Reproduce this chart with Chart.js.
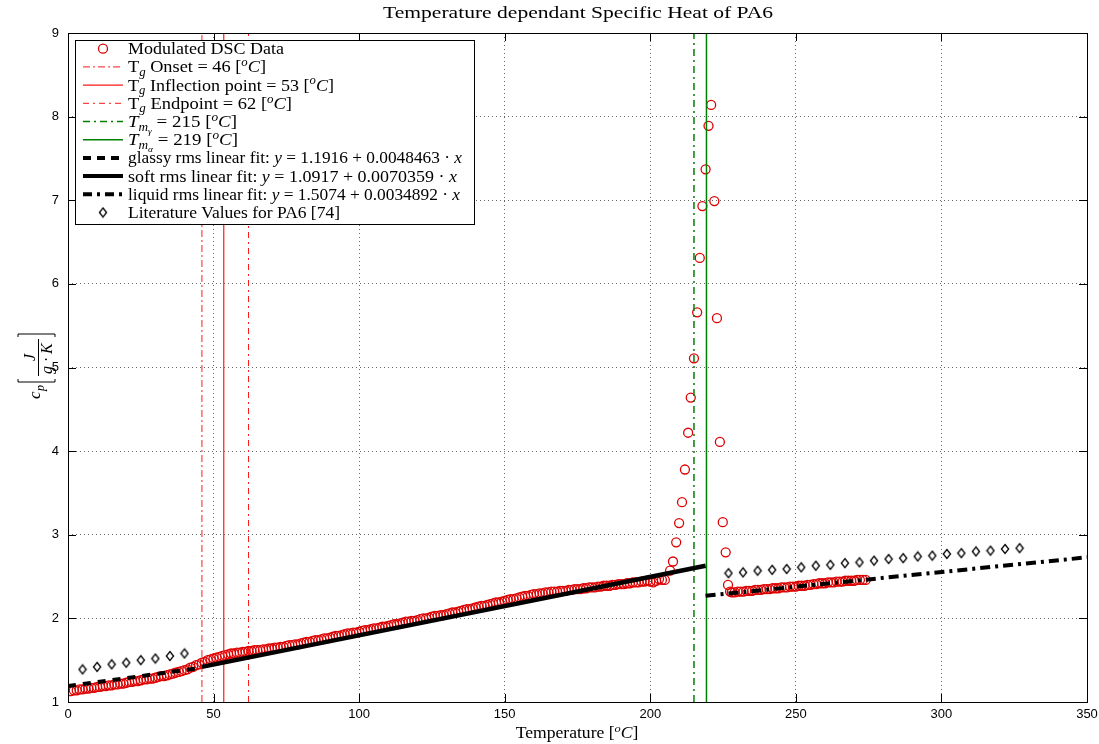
<!DOCTYPE html>
<html>
<head>
<meta charset="utf-8">
<script src="https://cdn.jsdelivr.net/npm/chart.js@4.4.1/dist/chart.umd.min.js"></script>
<style>
  html, body { margin: 0; padding: 0; background: #fff; }
</style>
</head>
<body>
<canvas id="c" width="1099" height="744"></canvas>
<script>
/* ── DATA ───────────────────────────────────────────────────────────── */
// modulated DSC, glassy + soft range, one reading per °C from 1 °C
const dscLowStart = 1;
const dscLowCp = [
  1.13,1.14,1.14,1.15,1.15,1.16,1.16,1.17,1.17,
  1.18,1.18,1.19,1.19,1.20,1.20,1.21,1.21,1.22,1.22,
  1.23,1.24,1.24,1.25,1.25,1.26,1.27,1.27,1.28,1.28,
  1.29,1.30,1.31,1.31,1.32,1.33,1.34,1.35,1.36,1.37,
  1.38,1.39,1.41,1.42,1.44,1.45,1.47,1.48,1.50,1.51,
  1.52,1.53,1.54,1.55,1.56,1.57,1.58,1.58,1.59,1.59,
  1.60,1.60,1.61,1.61,1.62,1.62,1.62,1.63,1.63,1.64,
  1.64,1.65,1.65,1.66,1.66,1.67,1.68,1.68,1.69,1.69,
  1.70,1.71,1.72,1.72,1.73,1.74,1.74,1.75,1.76,1.76,
  1.77,1.78,1.79,1.79,1.80,1.81,1.82,1.82,1.83,1.83,
  1.84,1.85,1.86,1.86,1.87,1.88,1.88,1.89,1.90,1.90,
  1.91,1.92,1.93,1.93,1.94,1.95,1.96,1.96,1.97,1.97,
  1.98,1.99,2.00,2.00,2.01,2.02,2.03,2.03,2.04,2.04,
  2.05,2.06,2.07,2.07,2.08,2.09,2.10,2.11,2.11,2.12,
  2.13,2.14,2.15,2.15,2.16,2.17,2.18,2.19,2.19,2.20,
  2.21,2.22,2.23,2.23,2.24,2.25,2.26,2.27,2.27,2.28,
  2.29,2.29,2.30,2.30,2.31,2.31,2.32,2.32,2.32,2.33,
  2.33,2.33,2.34,2.34,2.35,2.35,2.35,2.36,2.36,2.37,
  2.37,2.37,2.38,2.38,2.39,2.39,2.39,2.40,2.40,2.41,
  2.41,2.41,2.42,2.42,2.43,2.43,2.43,2.44,2.44,2.45,
  2.44,2.43,2.45,2.47,2.46,2.46
];
// melting peak, read point by point
const dscPeakT  = [206.8,207.8,208.9,209.9,210.9,211.9,213.0,213.9,215.0,216.1,217.0,
                   217.9,219.0,220.0,220.9,222.0,222.9,223.9,224.9,225.9,226.7,227.4];
const dscPeakCp = [2.57,2.68,2.91,3.14,3.39,3.78,4.22,4.64,5.11,5.66,6.31,
                   6.93,7.37,7.89,8.14,6.99,5.59,4.11,3.15,2.79,2.40,2.32];
// liquid range, one reading per °C from 228 °C
const dscHighStart = 228;
const dscHighCp = [
  2.31,2.31,2.32,2.32,2.32,2.33,2.33,2.33,2.34,2.34,
  2.34,2.35,2.35,2.35,2.36,2.36,2.36,2.37,2.37,2.37,
  2.38,2.38,2.38,2.39,2.39,2.39,2.40,2.40,2.41,2.41,
  2.42,2.42,2.42,2.43,2.43,2.43,2.44,2.44,2.44,2.45,
  2.45,2.45,2.45,2.46,2.46,2.46,2.46
];

// literature values for PA6 [74]
const litT  = [5,10,15,20,25,30,35,40,
               226.85,231.85,236.85,241.85,246.85,251.85,256.85,261.85,266.85,271.85,276.85,
               281.85,286.85,291.85,296.85,301.85,306.85,311.85,316.85,321.85,326.85];
const litCp = [1.39,1.42,1.45,1.47,1.50,1.52,1.55,1.58,
               2.54,2.55,2.57,2.58,2.59,2.61,2.63,2.64,2.66,2.67,2.69,
               2.71,2.72,2.74,2.75,2.77,2.78,2.80,2.81,2.83,2.84];

// rms linear fits (end points)
const glassyT = [0, 46],    glassyCp = [1.19, 1.41];
const softT   = [46, 219],  softCp   = [1.42, 2.63];
const liquidT = [219, 350], liquidCp = [2.27, 2.73];

// transition temperatures
const tgOnset = 46, tgInflection = 53.5, tgEnd = 62;
const tmGamma = 215, tmAlpha = 219.3;
const yRange = [1, 9];

const xTicks = { min: 0, max: 350, step: 50 };
const yTicks = { min: 1, max: 9, step: 1 };

/* ── HELPERS ────────────────────────────────────────────────────────── */
const SERIF = '"Liberation Serif", "Times New Roman", serif';
const SANS  = '"Liberation Sans", Arial, sans-serif';
const RED   = '#ff1a1a';
const DRED  = '#dd0000';
const GREEN = '#008000';

const pts = (xs, ys) => xs.map((x, i) => ({ x, y: ys[i] }));
const run = (start, ys) => ys.map((y, i) => ({ x: start + i, y }));
const vline = x => [{ x, y: yRange[0] }, { x, y: yRange[1] }];

function diamondImg() {
  const c = document.createElement('canvas');
  c.width = 10; c.height = 12;
  const g = c.getContext('2d');
  g.strokeStyle = '#000'; g.lineWidth = 1.3;
  g.beginPath();
  g.moveTo(5, 1.5); g.lineTo(8.6, 6); g.lineTo(5, 10.5); g.lineTo(1.4, 6);
  g.closePath(); g.stroke();
  return c;
}
const DIAMOND = diamondImg();

// rich text: parts = [[text, style]], style r|i|sub|ss|sup
function partFont(s, size) {
  let fs = size;
  if (s === 'sub' || s === 'sup') fs = size * 0.7;
  if (s === 'ss') fs = size * 0.5;
  return (s !== 'r' ? 'italic ' : '') + fs + 'px ' + SERIF;
}
function richWidth(ctx, parts, size) {
  let w = 0;
  for (const [t, s] of parts) { ctx.font = partFont(s, size); w += ctx.measureText(t).width; }
  return w;
}
function richText(ctx, x, y, parts, size, sx) {
  for (const [t, s] of parts) {
    let dy = 0;
    if (s === 'sub') dy = size * 0.22;
    if (s === 'ss')  dy = size * 0.40;
    if (s === 'sup') dy = -size * 0.38;
    ctx.font = partFont(s, size);
    ctx.save();
    ctx.translate(x, y + dy); ctx.scale(sx, 1);
    ctx.fillText(t, 0, 0);
    ctx.restore();
    x += ctx.measureText(t).width * sx;
  }
  return x;
}

/* ── LEGEND ROWS ────────────────────────────────────────────────────── */
const unitC = [[' [', 'r'], ['o', 'sup'], ['C', 'i'], [']', 'r']];
const legendRows = [
  { mark: 'circle', end: 284, parts: [['Modulated DSC Data', 'r']] },
  { line: { c: RED, w: 1, d: [7, 3, 2, 3] }, end: 266,
    parts: [['T', 'r'], ['g', 'sub'], [' Onset = 46', 'r'], ...unitC] },
  { line: { c: RED, w: 1.2, d: [] }, end: 334,
    parts: [['T', 'r'], ['g', 'sub'], [' Inflection point = 53', 'r'], ...unitC] },
  { line: { c: RED, w: 1, d: [6, 4, 2, 4] }, end: 292,
    parts: [['T', 'r'], ['g', 'sub'], [' Endpoint = 62', 'r'], ...unitC] },
  { line: { c: GREEN, w: 1.5, d: [7, 4, 2, 4] }, end: 237,
    parts: [['T', 'i'], ['m', 'sub'], ['γ', 'ss'], [' = 215', 'r'], ...unitC] },
  { line: { c: GREEN, w: 1.5, d: [] }, end: 238,
    parts: [['T', 'i'], ['m', 'sub'], ['α', 'ss'], [' = 219', 'r'], ...unitC] },
  { line: { c: '#000', w: 4, d: [8, 6] }, end: 462,
    parts: [['glassy rms linear fit: ', 'r'], ['y', 'i'], [' = 1.1916 + 0.0048463 · ', 'r'], ['x', 'i']] },
  { line: { c: '#000', w: 4, d: [] }, end: 457,
    parts: [['soft rms linear fit: ', 'r'], ['y', 'i'], [' = 1.0917 + 0.0070359 · ', 'r'], ['x', 'i']] },
  { line: { c: '#000', w: 4, d: [9, 5, 3, 5] }, end: 460,
    parts: [['liquid rms linear fit: ', 'r'], ['y', 'i'], [' = 1.5074 + 0.0034892 · ', 'r'], ['x', 'i']] },
  { mark: 'diamond', end: 340, parts: [['Literature Values for PA6 [74]', 'r']] },
];

/* ── DECORATION PLUGIN ──────────────────────────────────────────────── */
const decor = {
  id: 'decor',
  afterDatasetsDraw(chart) {
    const { ctx, chartArea: a, scales: { x, y } } = chart;
    ctx.save();
    ctx.strokeStyle = '#000'; ctx.lineWidth = 1; ctx.setLineDash([]);
    ctx.beginPath();
    x.ticks.forEach(t => {
      const px = Math.round(x.getPixelForValue(t.value)) + 0.5;
      ctx.moveTo(px, a.bottom); ctx.lineTo(px, a.bottom - 8);
      ctx.moveTo(px, a.top);    ctx.lineTo(px, a.top + 8);
    });
    y.ticks.forEach(t => {
      const py = Math.round(y.getPixelForValue(t.value)) + 0.5;
      ctx.moveTo(a.left, py);  ctx.lineTo(a.left + 8, py);
      ctx.moveTo(a.right, py); ctx.lineTo(a.right - 8, py);
    });
    ctx.stroke();
    ctx.strokeRect(Math.round(a.left) + 0.5, Math.round(a.top) + 0.5,
                   Math.round(a.right - a.left), Math.round(a.bottom - a.top));
    ctx.restore();
  },
  afterDraw(chart) {
    const { ctx } = chart;
    ctx.save();
    ctx.fillStyle = '#000';
    ctx.textBaseline = 'alphabetic';

    // title
    const title = 'Temperature dependant Specific Heat of PA6';
    ctx.font = '17px ' + SERIF;
    const tw = ctx.measureText(title).width;
    ctx.save(); ctx.translate(578 - 195, 18); ctx.scale(390 / tw, 1); ctx.fillText(title, 0, 0); ctx.restore();

    // x label
    const xl = [['Temperature', 'r'], ...unitC];
    const xw = richWidth(ctx, xl, 16) * 1.1;
    richText(ctx, 577 - xw / 2, 738, xl, 16, 1.1);

    // y label (rotated)
    ctx.save();
    ctx.translate(40, 366);
    ctx.rotate(-Math.PI / 2);
    ctx.strokeStyle = '#000'; ctx.lineWidth = 1;
    ctx.font = 'italic 17px ' + SERIF; ctx.fillText('c', -33, 0);
    ctx.font = 'italic 12px ' + SERIF; ctx.fillText('p', -25, 4);
    ctx.beginPath();
    ctx.moveTo(-13, -22); ctx.lineTo(-16, -22); ctx.lineTo(-16, 15); ctx.lineTo(-13, 15);
    ctx.moveTo(29, -22);  ctx.lineTo(32, -22);  ctx.lineTo(32, 15);  ctx.lineTo(29, 15);
    ctx.moveTo(-10, -1.5); ctx.lineTo(27, -1.5);
    ctx.stroke();
    ctx.textAlign = 'left';
    ctx.font = 'italic 16px ' + SERIF; ctx.fillText('J', 5, -5);
    ctx.fillText('g', -8, 12);
    ctx.font = '16px ' + SERIF; ctx.fillText('·', 4, 12);
    ctx.font = 'italic 16px ' + SERIF; ctx.fillText('K', 12, 12);
    ctx.restore();

    // legend
    const L = 75, T = 40, R = 474, B = 224;
    ctx.fillStyle = '#fff';
    ctx.fillRect(L, T, R - L, B - T);
    ctx.strokeStyle = '#000'; ctx.lineWidth = 1; ctx.setLineDash([]);
    ctx.strokeRect(L + 0.5, T + 0.5, R - L, B - T);
    legendRows.forEach((row, i) => {
      const cy = 48.7 + 18.2 * i;
      ctx.save();
      if (row.line) {
        ctx.strokeStyle = row.line.c; ctx.lineWidth = row.line.w;
        ctx.setLineDash(row.line.d);
        ctx.beginPath(); ctx.moveTo(83, cy); ctx.lineTo(123, cy); ctx.stroke();
      } else if (row.mark === 'circle') {
        ctx.strokeStyle = DRED; ctx.lineWidth = 1.3;
        ctx.beginPath(); ctx.arc(103, cy, 4.5, 0, Math.PI * 2); ctx.stroke();
      } else {
        ctx.drawImage(DIAMOND, 103 - DIAMOND.width / 2, cy - DIAMOND.height / 2);
      }
      ctx.restore();
      ctx.fillStyle = '#000';
      const sx = (row.end - 128) / richWidth(ctx, row.parts, 16.5);
      richText(ctx, 128, cy + 5.5, row.parts, 16.5, sx);
    });
    ctx.restore();
  }
};

/* ── CHART ──────────────────────────────────────────────────────────── */
const lineDs = (data, color, width, dash) => ({
  data, showLine: true, borderColor: color, borderWidth: width, borderDash: dash,
  pointRadius: 0, fill: false, tension: 0,
});
const noPad = s => { s.paddingLeft = 0; s.paddingRight = 0; s.paddingTop = 0; s.paddingBottom = 0; };

new Chart(document.getElementById('c'), {
  type: 'scatter',
  data: {
    datasets: [
      lineDs(pts(glassyT, glassyCp), '#000', 4, [8, 7]),
      lineDs(pts(softT, softCp), '#000', 4.5, []),
      lineDs(pts(liquidT, liquidCp), '#000', 4, [10, 5, 3, 5]),
      {
        data: pts(litT, litCp), showLine: false,
        pointStyle: DIAMOND, pointRadius: 5,
      },
      lineDs(vline(tgOnset), RED, 1, [7, 3, 2, 3]),
      lineDs(vline(tgInflection), RED, 1.2, []),
      lineDs(vline(tgEnd), RED, 1, [6, 4, 2, 4]),
      lineDs(vline(tmGamma), GREEN, 1.5, [7, 4, 2, 4]),
      lineDs(vline(tmAlpha), GREEN, 1.5, []),
      {
        data: [...run(dscLowStart, dscLowCp), ...pts(dscPeakT, dscPeakCp), ...run(dscHighStart, dscHighCp)],
        showLine: false, pointStyle: 'circle', pointRadius: 4.5, pointBorderWidth: 1.3,
        pointBorderColor: DRED, pointBackgroundColor: 'rgba(0,0,0,0)',
      },
    ],
  },
  options: {
    responsive: false, animation: false, devicePixelRatio: 1, events: [],
    layout: { padding: { top: 33, right: 12, left: 0, bottom: 0 } },
    plugins: { legend: { display: false }, tooltip: { enabled: false } },
    scales: {
      x: {
        type: 'linear', min: xTicks.min, max: xTicks.max,
        ticks: { stepSize: xTicks.step, color: '#000', font: { family: SANS, size: 13 }, padding: 5, maxRotation: 0 },
        grid: { color: '#666', drawTicks: false },
        border: { display: false, dash: [1, 3] },
        afterFit: s => { s.height = 42; noPad(s); },
      },
      y: {
        type: 'linear', min: yTicks.min, max: yTicks.max,
        ticks: { stepSize: yTicks.step, color: '#000', font: { family: SANS, size: 13 }, padding: 9 },
        grid: { color: '#666', drawTicks: false },
        border: { display: false, dash: [1, 3] },
        afterFit: s => { s.width = 68; noPad(s); },
      },
    },
  },
  plugins: [decor],
});
</script>
</body>
</html>
